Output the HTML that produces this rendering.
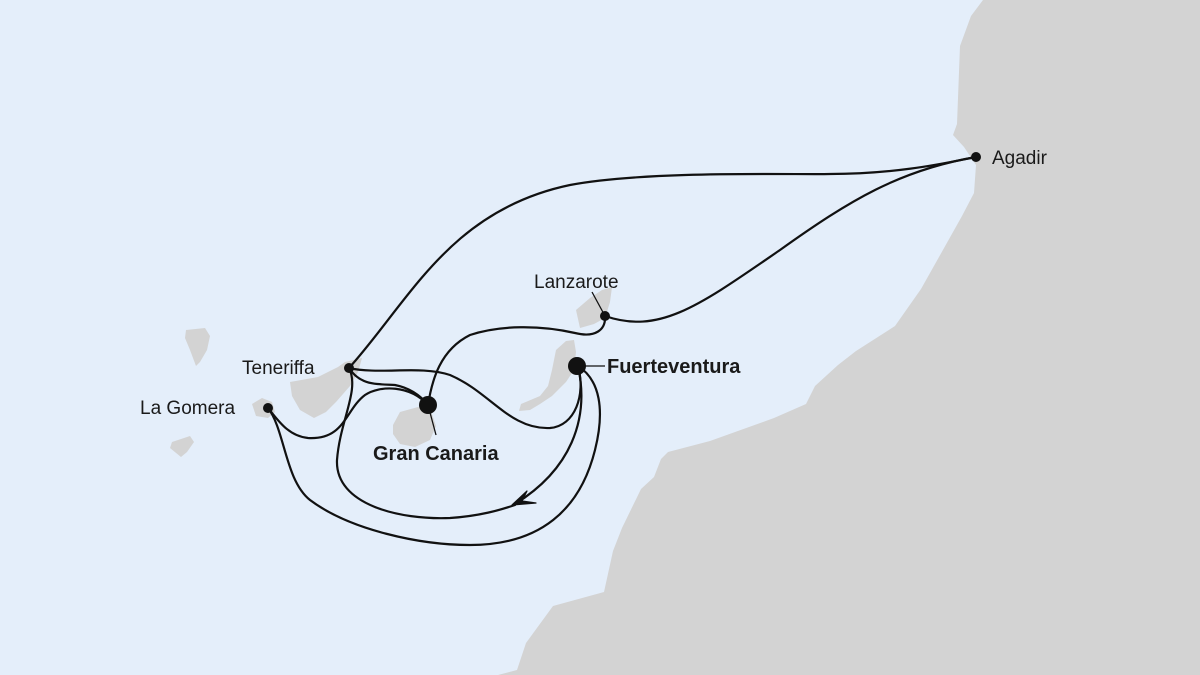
<!DOCTYPE html>
<html><head><meta charset="utf-8"><style>
html,body{margin:0;padding:0;}
body{width:1200px;height:675px;overflow:hidden;background:#e4eefa;}
svg{display:block;}
text{font-family:"Liberation Sans",sans-serif;fill:#1a1a1a;}
</style></head><body>
<svg width="1200" height="675" viewBox="0 0 1200 675" xmlns="http://www.w3.org/2000/svg">
<rect width="1200" height="675" fill="#e4eefa"/>
<path fill="#d3d3d3" d="M983,0 L971,16 L960,46 L957,124 L953,135 L964,147 L976,165 L974,193 L962,216 L939,257 L921,289 L895,326 L856,351 L838,365 L815,386 L806,404 L774,418 L710,441 L668,452 L661,459 L654,477 L641,489 L622,528 L613,551 L604,592 L553,606 L526,643 L517,670 L498,675 L1200,675 L1200,0 Z"/>
<path fill="#d3d3d3" d="M186,330 L205,328 L210,336 L207,350 L200,362 L196,366 L190,350 L185,338 Z"/>
<path fill="#d3d3d3" d="M172,442 L190,436 L194,442 L187,452 L181,457 L170,448 Z"/>
<path fill="#d3d3d3" d="M252,404 L262,398 L272,402 L275,412 L268,418 L256,416 Z"/>
<path fill="#d3d3d3" d="M290,382 L318,377 L338,367 L345,362 L362,358 L358,372 L350,386 L336,402 L326,412 L314,418 L300,410 L292,396 Z"/>
<path fill="#d3d3d3" d="M393,425 L400,412 L418,407 L432,414 L436,426 L430,440 L415,447 L400,444 L393,434 Z"/>
<path fill="#d3d3d3" d="M576,310 L590,298 L602,290 L612,287 L610,302 L605,318 L594,324 L580,328 Z"/>
<path fill="#d3d3d3" d="M556,350 L566,341 L574,340 L576,352 L574,370 L566,382 L552,396 L540,404 L530,410 L519,411 L521,404 L540,396 L548,386 L552,370 Z"/>
<g fill="none" stroke="#111" stroke-width="2.2" stroke-linecap="round">
<path d="M349,368 C410,300 450,210 570,185 C650,170 800,175 830,174 C900,174 950,162 976,157"/>
<path d="M976,157 C900,170 850,200 780,250 C700,305 660,335 605,316"/>
<path d="M605,316 C606,330 595,338 575,333 C540,325 500,325 470,335 C440,350 432,380 428,405"/>
<path d="M349,368 C380,375 420,365 450,375 C490,392 510,430 550,428 C575,426 586,395 578,366"/>
<path d="M349,368 C360,385 375,384 395,385 C410,388 420,395 428,405"/>
<path d="M428,405 C410,385 380,385 365,395 C345,410 345,440 308,438 C288,436 278,420 268,408"/>
<path d="M349,368 C360,390 340,420 337,460 C335,505 400,520 450,518 C480,516 500,510 515,505"/>
<path d="M578,366 C590,420 570,470 515,504"/>
<path d="M268,408 C285,430 285,480 310,500 C350,530 420,545 470,545 C540,545 580,510 595,450 C605,410 600,380 578,366"/>
</g>
<path d="M512,505 L527,491 L522,501 L536,503 Z" fill="#111" stroke="#111" stroke-width="1.2" stroke-linejoin="round"/>
<line x1="428" y1="405" x2="436" y2="435" stroke="#111" stroke-width="1.3"/>
<line x1="578" y1="366" x2="605" y2="366" stroke="#111" stroke-width="1.3"/>
<line x1="605" y1="316" x2="592" y2="292" stroke="#111" stroke-width="1.3"/>
<circle cx="976" cy="157" r="5" fill="#111"/>
<circle cx="605" cy="316" r="5" fill="#111"/>
<circle cx="349" cy="368" r="5" fill="#111"/>
<circle cx="268" cy="408" r="5" fill="#111"/>
<circle cx="428" cy="405" r="9" fill="#111"/>
<circle cx="577" cy="366" r="9" fill="#111"/>
<text x="992" y="164" font-size="19">Agadir</text>
<text x="534" y="288" font-size="19">Lanzarote</text>
<text x="607" y="373" font-size="20" font-weight="bold">Fuerteventura</text>
<text x="242" y="374" font-size="19">Teneriffa</text>
<text x="140" y="414" font-size="19">La Gomera</text>
<text x="373" y="460" font-size="20" font-weight="bold">Gran Canaria</text>
</svg>
</body></html>
